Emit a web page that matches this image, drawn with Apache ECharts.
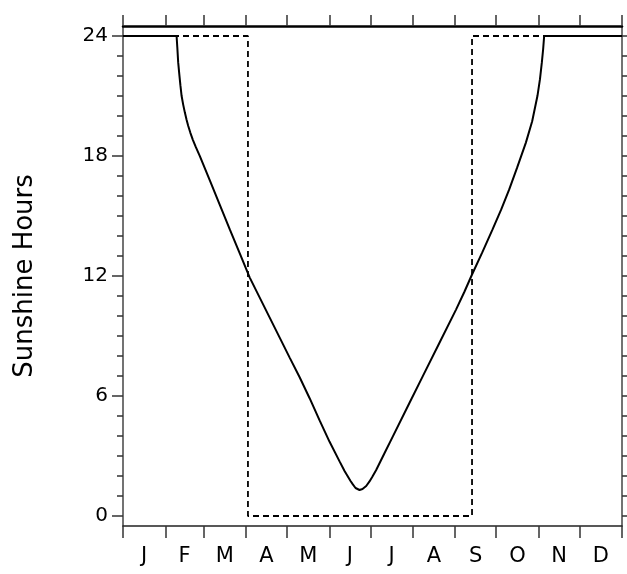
<!DOCTYPE html>
<html>
<head>
<meta charset="utf-8">
<script src="https://cdn.jsdelivr.net/npm/echarts@6/dist/echarts.min.js"></script>
<style>
html,body{margin:0;padding:0;background:#fff;}
#chart{width:627px;height:574px;}
</style>
</head>
<body>
<div id="chart"></div>
<script>
// Month boundaries (day of year) and label positions
var monthStarts = [0,31,59,90,120,151,181,212,243,273,304,334,365];
var monthMids = [15.5,45,74.5,105,135.5,166,196.5,227.5,258,288.5,319,349.5];
var monthLabels = ['J','F','M','A','M','J','J','A','S','O','N','D'];
var yMajorTicks = [0,6,12,18,24];
var yMinorTicks = [0,1,2,3,4,5,6,7,8,9,10,11,12,13,14,15,16,17,18,19,20,21,22,23,24];

// Solid curve (day of year, sunshine hours)
var solidDays  = [0, 39.20, 39.71, 40.37, 41.17, 41.98, 42.85, 44.02, 45.26, 46.50, 47.67, 49.28, 51.10, 53.29, 56.21,
                  63.51, 70.81, 78.11, 85.41, 92.71, 100.01, 107.31, 114.61, 121.91, 129.21, 136.51, 143.81, 151.11,
                  158.41, 162.06, 164.25, 166.44, 168.12, 170.09, 171.55, 173.01, 175.20, 177.90, 180.31, 182.50,
                  185.20, 191.26, 197.32, 209.51, 219.22, 231.41, 243.60, 249.66, 255.14, 262.80, 270.32, 276.67,
                  282.51, 288.35, 294.70, 299.30, 303.17, 305.00, 306.37, 307.33, 308.06, 365];
var solidHours = [24, 24.00, 23.45, 22.68, 22.09, 21.54, 21.01, 20.57, 20.17, 19.81, 19.51, 19.16, 18.81, 18.44, 17.99,
                  16.78, 15.56, 14.33, 13.13, 11.92, 10.92, 9.92, 8.92, 7.92, 6.94, 5.89, 4.78, 3.71,
                  2.73, 2.25, 2.00, 1.75, 1.58, 1.40, 1.32, 1.30, 1.35, 1.50, 1.73, 1.98,
                  2.30, 3.14, 3.97, 5.65, 6.98, 8.65, 10.32, 11.20, 12.05, 13.18, 14.33, 15.33,
                  16.33, 17.43, 18.67, 19.74, 21.01, 21.84, 22.68, 23.35, 24.00, 24];

// Dashed step line
var dashDays  = [0, 91.4, 91.4, 255.3, 255.3, 365];
var dashHours = [24, 24, 0, 0, 24, 24];

function pairs(xs, ys){ var o=[]; for(var i=0;i<xs.length;i++) o.push([xs[i], ys[i]]); return o; }

var FONT = 'DejaVu Sans';
var chart = echarts.init(document.getElementById('chart'), null, {renderer:'canvas'});
var yBase = {type:'value', min:-0.5, max:24.5, splitLine:{show:false}};
chart.setOption({
  animation:false,
  backgroundColor:'#fff',
  grid:{left:123, right:5, top:26, bottom:48},
  xAxis:[
    {type:'value', min:0, max:365, position:'bottom',
     splitLine:{show:false},
     axisLine:{show:true, onZero:false, lineStyle:{color:'#222', width:1.5}},
     axisTick:{show:true, inside:false, length:12, customValues:monthStarts, lineStyle:{color:'#333', width:1.5}},
     axisLabel:{show:true, customValues:monthMids, margin:20, color:'#000', fontFamily:FONT, fontSize:21,
       formatter:function(v){ var i=monthMids.indexOf(v); return i>=0?monthLabels[i]:''; }}
    },
    {type:'value', min:0, max:365, position:'top',
     splitLine:{show:false},
     axisLine:{show:true, onZero:false, lineStyle:{color:'#000', width:2.5}},
     axisTick:{show:true, inside:false, length:11, customValues:monthStarts, lineStyle:{color:'#333', width:1.5}},
     axisLabel:{show:false}
    }
  ],
  yAxis:[
    Object.assign({}, yBase, {position:'left',
      axisLine:{show:true, onZero:false, lineStyle:{color:'#444', width:1.5}},
      axisTick:{show:true, inside:false, length:11, customValues:yMajorTicks, lineStyle:{color:'#333', width:1.5}},
      axisLabel:{show:true, customValues:yMajorTicks, margin:15, color:'#000', fontFamily:FONT, fontSize:20},
      name:'Sunshine Hours', nameLocation:'middle', nameGap:85,
      nameTextStyle:{color:'#000', fontFamily:FONT, fontSize:26}
    }),
    Object.assign({}, yBase, {position:'left',
      axisLine:{show:false},
      axisTick:{show:true, inside:false, length:6, customValues:yMinorTicks, lineStyle:{color:'#333', width:1.5}},
      axisLabel:{show:false}
    }),
    Object.assign({}, yBase, {position:'right',
      axisLine:{show:true, onZero:false, lineStyle:{color:'#444', width:1.5}},
      axisTick:{show:true, inside:false, length:6, customValues:yMinorTicks, lineStyle:{color:'#333', width:1.5}},
      axisLabel:{show:false}
    })
  ],
  series:[
    {type:'line', xAxisIndex:0, yAxisIndex:0, data:pairs(dashDays, dashHours), showSymbol:false,
     lineStyle:{color:'#000', width:1.8, type:[6,4]}, z:2},
    {type:'line', xAxisIndex:0, yAxisIndex:0, data:pairs(solidDays, solidHours), showSymbol:false,
     lineStyle:{color:'#000', width:2}, z:3}
  ]
});
</script>
</body>
</html>
